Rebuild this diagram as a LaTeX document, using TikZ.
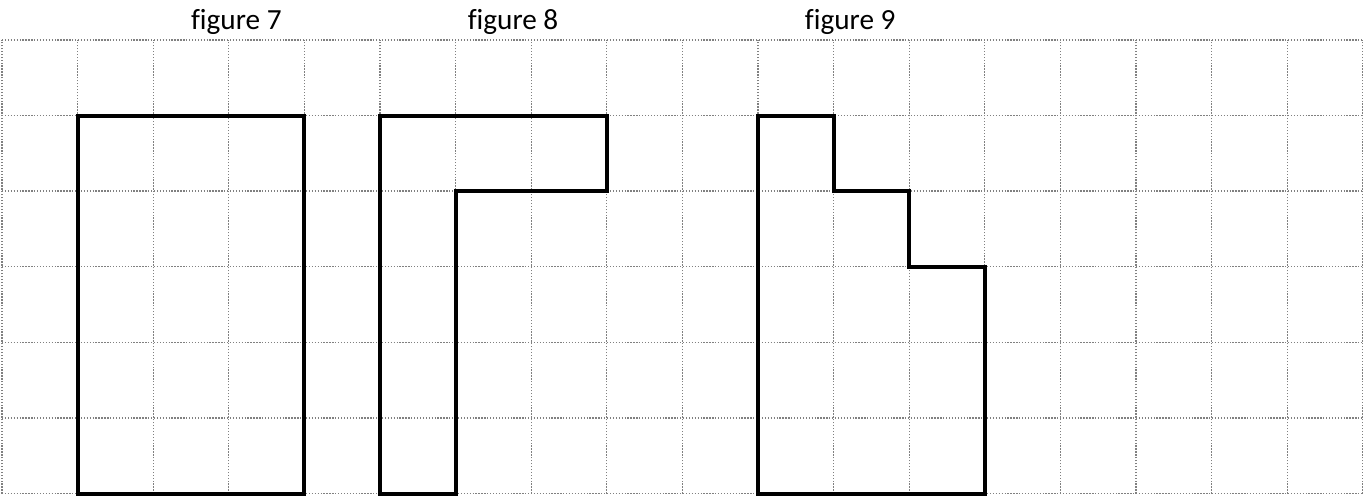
\documentclass[tikz,border=0pt]{standalone}
\usepackage{fontspec}
\setmainfont[Ligatures=NoCommon]{Carlito}
\usepackage{tikz}

\begin{document}
\begin{tikzpicture}
 [grid line/.style={gray, line width=0.5pt, dash pattern=on 0.5pt off 0.6pt},
  figure shape/.style={black, line width=1.5pt, line join=miter},
  figure label/.style={anchor=base, font=\fontsize{11}{13}\selectfont, inner sep=0pt}]

\useasboundingbox (-0.026,-0.02) rectangle (18.095,6.528);

\draw[grid line] (0,0) grid (18,6);

\node[figure label] (label7) at (3.10,6.14) {figure 7};
\node[figure label] (label8) at (6.76,6.14) {figure 8};
\node[figure label] (label9) at (11.22,6.14) {figure 9};

\draw[figure shape] (1,0) rectangle (4,5);

\draw[figure shape] (5,0) -- (5,5) -- (8,5) -- (8,4) -- (6,4) -- (6,0) -- cycle;

\draw[figure shape] (10,0) -- (10,5) -- (11,5) -- (11,4) -- (12,4)
  -- (12,3) -- (13,3) -- (13,0) -- cycle;

\end{tikzpicture}
\end{document}
